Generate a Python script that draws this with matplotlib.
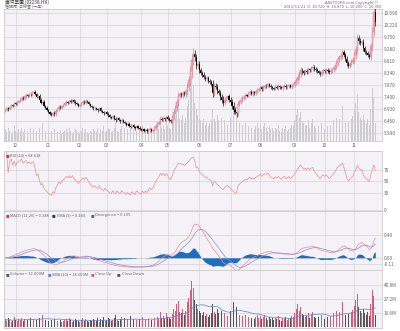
import numpy as np
import pandas as pd
import matplotlib.pyplot as plt

plt.rcParams['font.family'] = ['Noto Sans CJK TC', 'DejaVu Sans']

title = "廣汽集團 (02238.HK)"
subtitle = "陰陽燭, 日線圖 (一年)"
date_text = "2011/11/21"
months = ["12", "01", "02", "03", "04", "05", "06", "07", "08", "09", "10", "11"]
month_idx = [7, 29, 50, 68, 91, 109, 130, 151, 171, 194, 214, 234]
price_ticks = [10.69, 10.22, 9.75, 9.28, 8.81, 8.34, 7.87, 7.40, 6.93, 6.46, 5.99]
rsi_ticks = [70, 50, 30, 0]
macd_ticks = [0.40, 0.00, -0.11]
vol_ticks = [40.8, 27.2, 13.6]

first_open = 6.85
close = [
    6.89, 6.95, 6.92, 7.02, 7.08, 7.05, 7.15, 7.12, 7.20, 7.25,
    7.30, 7.38, 7.34, 7.42, 7.48, 7.45, 7.52, 7.50, 7.58, 7.60,
    7.52, 7.40, 7.44, 7.30, 7.18, 7.22, 7.05, 6.98, 6.90, 6.82,
    6.75, 6.70, 6.78, 6.72, 6.85, 6.92, 7.02, 6.96, 7.05, 7.10,
    7.15, 7.22, 7.18, 7.26, 7.20, 7.28, 7.22, 7.15, 7.12, 7.05,
    7.10, 7.16, 7.22, 7.18, 7.25, 7.20, 7.12, 7.05, 7.00, 6.95,
    6.98, 6.92, 6.88, 6.95, 6.85, 6.80, 6.76, 6.82, 6.74, 6.68,
    6.62, 6.58, 6.64, 6.55, 6.50, 6.56, 6.48, 6.44, 6.50, 6.42,
    6.38, 6.32, 6.36, 6.28, 6.24, 6.30, 6.22, 6.18, 6.25, 6.20,
    6.15, 6.10, 6.16, 6.08, 6.12, 6.05, 6.10, 6.15, 6.08, 6.12,
    6.20, 6.28, 6.35, 6.42, 6.55, 6.50, 6.58, 6.52, 6.62, 6.55,
    6.48, 6.45, 6.60, 6.82, 6.98, 7.20, 7.45, 7.52, 7.48, 7.55,
    7.50, 7.62, 7.80, 8.05, 8.40, 8.85, 9.10, 8.95, 8.62, 8.70,
    8.45, 8.35, 8.28, 8.20, 8.10, 8.15, 8.02, 7.98, 7.92, 7.55,
    7.85, 7.80, 7.62, 7.55, 7.40, 7.28, 7.18, 7.30, 7.36, 7.42,
    7.30, 7.20, 7.05, 6.90, 6.82, 6.76, 7.12, 7.20, 7.28, 7.35,
    7.40, 7.48, 7.45, 7.55, 7.60, 7.52, 7.58, 7.55, 7.62, 7.66,
    7.72, 7.78, 7.70, 7.80, 7.85, 7.82, 7.90, 7.84, 7.78, 7.75,
    7.72, 7.80, 7.76, 7.82, 7.78, 7.74, 7.80, 7.85, 7.78, 7.82,
    7.86, 7.80, 7.84, 7.90, 7.98, 8.05, 8.18, 8.30, 8.45, 8.40,
    8.35, 8.42, 8.38, 8.48, 8.44, 8.52, 8.58, 8.50, 8.45, 8.40,
    8.35, 8.30, 8.38, 8.44, 8.40, 8.46, 8.42, 8.36, 8.40, 8.48,
    8.52, 8.60, 8.75, 8.88, 8.95, 9.02, 9.15, 9.05, 8.90, 8.72,
    8.62, 8.70, 8.78, 8.85, 9.05, 9.25, 9.70, 9.60, 9.52, 9.55,
    9.30, 9.18, 9.12, 9.05, 8.98, 9.40, 9.95, 10.72, 10.35,
]
spread = [
    .10, .08, .12, .09, .07, .11, .10, .08, .12, .09,
    .10, .12, .08, .11, .14, .09, .10, .12, .13, .10,
    .12, .10, .09, .13, .11, .14, .12, .10, .11, .09,
    .08, .10, .09, .11, .12, .08, .13, .10, .09, .08,
    .10, .11, .08, .12, .09, .08, .10, .11, .09, .08,
    .08, .10, .12, .09, .11, .08, .07, .10, .09, .11,
    .10, .08, .12, .07, .10, .09, .12, .08, .10, .11,
    .10, .08, .09, .12, .14, .09, .08, .10, .12, .09,
    .11, .08, .10, .09, .13, .08, .10, .11, .09, .08,
    .10, .09, .12, .08, .09, .11, .10, .14, .09, .08,
    .12, .15, .13, .10, .18, .12, .14, .10, .16, .12,
    .12, .10, .16, .22, .20, .26, .30, .18, .16, .20,
    .16, .20, .28, .32, .40, .48, .42, .30, .26, .22,
    .20, .18, .16, .20, .15, .18, .14, .16, .18, .28,
    .20, .18, .24, .18, .26, .22, .30, .20, .16, .15,
    .18, .20, .24, .30, .20, .26, .24, .16, .14, .15,
    .12, .16, .11, .13, .15, .12, .17, .11, .13, .15,
    .12, .14, .11, .13, .15, .12, .10, .13, .11, .12,
    .10, .12, .11, .14, .10, .09, .12, .11, .13, .10,
    .11, .12, .14, .13, .18, .22, .26, .20, .24, .16,
    .15, .13, .14, .18, .12, .15, .19, .13, .12, .14,
    .13, .12, .15, .14, .11, .16, .13, .12, .14, .15,
    .18, .15, .20, .24, .18, .22, .28, .18, .16, .20,
    .16, .15, .18, .20, .25, .30, .36, .24, .20, .18,
    .22, .18, .16, .18, .15, .26, .40, .36, .30,
]
volume = [
    8, 6, 9, 7, 5, 6, 10, 7, 6, 8,
    7, 9, 6, 8, 12, 7, 6, 9, 11, 8,
    10, 7, 6, 9, 8, 12, 9, 7, 8, 6,
    5, 7, 6, 8, 9, 6, 10, 7, 5, 6,
    7, 8, 6, 9, 7, 5, 6, 8, 7, 6,
    5, 7, 9, 6, 8, 6, 5, 7, 6, 8,
    7, 6, 9, 5, 8, 7, 10, 6, 7, 9,
    8, 6, 7, 9, 12, 7, 6, 8, 10, 7,
    9, 6, 8, 7, 11, 6, 8, 9, 7, 6,
    8, 7, 10, 6, 7, 9, 8, 12, 7, 6,
    9, 12, 10, 8, 15, 9, 11, 8, 14, 10,
    9, 8, 13, 18, 16, 22, 25, 15, 14, 18,
    12, 16, 24, 28, 36, 44, 38, 26, 22, 18,
    16, 14, 12, 15, 11, 13, 10, 12, 14, 22,
    15, 13, 18, 14, 20, 16, 24, 14, 12, 11,
    13, 16, 19, 24, 15, 20, 18, 12, 10, 11,
    9, 12, 8, 10, 11, 9, 13, 8, 10, 12,
    9, 11, 8, 10, 12, 9, 7, 10, 8, 9,
    7, 9, 8, 11, 7, 6, 9, 8, 10, 7,
    8, 9, 11, 10, 14, 18, 22, 16, 20, 13,
    12, 10, 11, 14, 9, 12, 15, 10, 9, 11,
    10, 9, 12, 11, 8, 13, 10, 9, 11, 12,
    14, 12, 16, 20, 15, 18, 24, 14, 12, 16,
    13, 12, 15, 17, 21, 26, 32, 20, 16, 14,
    18, 14, 12, 15, 11, 22, 36, 30, 12,
]

c = np.array(close)
o = np.array([first_open] + close[:-1])
rng = np.array(spread)
hi = np.maximum(o, c) + rng / 2
lo = np.minimum(o, c) - rng / 2
vol = np.array(volume, dtype=float)
x = np.arange(len(c))
up = c >= o

# indicators
s = pd.Series(c)
d = s.diff().fillna(0)
g = d.clip(lower=0).ewm(alpha=1 / 14, adjust=True).mean()
l = (-d).clip(lower=0).ewm(alpha=1 / 14, adjust=True).mean()
rsi = 100 - 100 / (1 + g / l)
e12 = s.ewm(span=12, adjust=False).mean()
e26 = s.ewm(span=26, adjust=False).mean()
macd = e12 - e26
sig = macd.ewm(span=9, adjust=False).mean()
div = macd - sig
vsma = pd.Series(vol).rolling(20, min_periods=1).mean()

BG = '#f4f2f6'
GRID = '#d6d4d8'
TXT = '#666666'
FS = 3.4
W, H = 400, 331

fig = plt.figure(figsize=(4, 3.31), dpi=100)
fig.patch.set_facecolor('white')


def panel(top, bot):
    ax = fig.add_axes([4 / W, 1 - bot / H, 378 / W, (bot - top) / H])
    ax.set_facecolor(BG)
    for sp in ax.spines.values():
        sp.set_color('#c0c0c0')
        sp.set_linewidth(0.5)
    ax.set_xlim(-0.8, 252.5)
    ax.set_xticks(month_idx)
    ax.set_xticklabels([])
    ax.tick_params(length=0, labelsize=FS, colors=TXT, pad=1.5)
    ax.grid(True, axis='x', color=GRID, lw=0.5)
    ax.set_axisbelow(True)
    return ax


def legend(ax, items):
    for xp, color, label in items:
        ax.text(xp, 0.955, "■", color=color, fontsize=2.6, transform=ax.transAxes,
                va='top', ha='left')
        ax.text(xp + 0.012, 0.96, label, color=TXT, fontsize=FS * 0.85,
                transform=ax.transAxes, va='top', ha='left')


# main price panel, volume drawn faintly underneath
ax1 = panel(9, 141)
ax1.bar(x, vol, width=0.55, color='#cdcdd0', zorder=1)
ax1.set_ylim(0, 90)
ax1.set_yticks([])
ax1.set_xticklabels(months)
axp = ax1.twinx()
axp.set_ylim(5.676, 10.847)
axp.set_yticks(price_ticks)
axp.set_yticklabels(["%.3f" % v for v in price_ticks])
axp.tick_params(length=0, labelsize=FS, colors=TXT, pad=1.5)
axp.grid(True, axis='y', color=GRID, lw=0.5)
for sp in axp.spines.values():
    sp.set_visible(False)
wick_col = np.where(up, '#d9707f', '#000000')
axp.vlines(x, lo, hi, colors=wick_col, lw=0.45, zorder=3)
body = np.maximum(np.abs(c - o), 0.015)
axp.bar(x[up], body[up], bottom=np.minimum(o, c)[up], width=0.75,
        color='#f3c6ce', edgecolor='#d9707f', linewidth=0.3, zorder=4)
axp.bar(x[~up], body[~up], bottom=np.minimum(o, c)[~up], width=0.75,
        color='#000000', linewidth=0, zorder=4)

# RSI
ax2 = panel(151, 211)
ax2.plot(x, rsi, color='#f08a8a', lw=0.5)
ax2.set_ylim(-1, 102)
ax2.yaxis.tick_right()
ax2.set_yticks(rsi_ticks)
ax2.grid(True, axis='y', color=GRID, lw=0.5)
legend(ax2, [(0.005, '#e03030', "RSI (14) = %.3f" % rsi.iloc[-1])])

# MACD
ax3 = panel(211, 270)
ax3.fill_between(x, 0, div, color='#1f6dbf', lw=0)
ax3.plot(x, macd, color='#f08a8a', lw=0.5)
ax3.plot(x, sig, color='#8a8ae6', lw=0.5)
ax3.set_ylim(-0.218, 0.836)
ax3.yaxis.tick_right()
ax3.set_yticks(macd_ticks)
ax3.set_yticklabels(["%.2f" % v for v in macd_ticks])
ax3.grid(True, axis='y', color=GRID, lw=0.5)
legend(ax3, [(0.005, '#e03030', "MACD (12,26) = %.3f" % macd.iloc[-1]),
             (0.127, '#2020c0', "EMA (9) = %.3f" % sig.iloc[-1]),
             (0.23, '#1f6dbf', "Divergence = %.3f" % div.iloc[-1])])

# volume
ax4 = panel(270, 328)
vcol = np.where(up, '#d0607a', '#555555')
ax4.bar(x, vol, width=0.55, color=vcol)
ax4.plot(x, vsma, color='#5a7fd0', lw=0.5)
ax4.set_ylim(-0.5, 55)
ax4.yaxis.tick_right()
ax4.set_yticks(vol_ticks)
ax4.set_yticklabels(["%.1fM" % v for v in vol_ticks])
ax4.grid(True, axis='y', color=GRID, lw=0.5)
legend(ax4, [(0.005, '#555555', "Volume = %.3fM" % vol[-1]),
             (0.116, '#5a7fd0', "SMA (20) = %.3fM" % vsma.iloc[-1]),
             (0.23, '#d0607a', "Close Up"),
             (0.299, '#555555', "Close Down")])

# header texts
fig.text(5 / W, 1 - 2.5 / H, title, fontsize=FS, color='#333333', va='center', ha='left')
fig.text(5 / W, 1 - 6.5 / H, subtitle, fontsize=FS * 0.85, color=TXT, va='center', ha='left')
fig.text(378 / W, 1 - 2.5 / H, "AASTOCKS.com Copyright ©", fontsize=FS * 0.85,
         color=TXT, va='center', ha='right')
fig.text(382 / W, 1 - 6.5 / H,
         "%s  O: %.3f  H: %.3f  L: %.3f  C: %.3f" % (date_text, o[-1], hi[-1], lo[-1], c[-1]),
         fontsize=FS * 0.85, color=TXT, va='center', ha='right')

fig.savefig("out.png", dpi=100)
